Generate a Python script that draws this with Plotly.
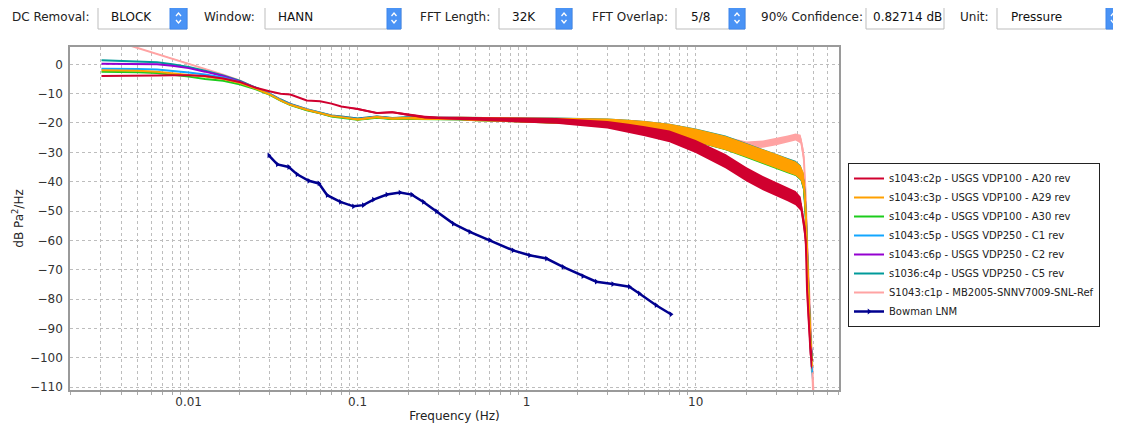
import plotly.graph_objects as go

# ---------------- data ----------------
FREQ = [0.00305, 0.004, 0.005, 0.0065, 0.008, 0.01, 0.0125, 0.016, 0.02, 0.025,
        0.03, 0.035, 0.04, 0.05, 0.06, 0.07, 0.08, 0.1, 0.13, 0.16,
        0.2, 0.25, 0.3, 0.4, 0.5, 0.7, 1, 1.5, 2, 3,
        4, 5, 7, 10, 15, 20, 25, 30, 35, 39,
        41.8, 43.6, 44.8, 45.6, 46.7, 47.9, 48.8, 50]

RED_C2P = [-4.0, -4.0, -3.9, -3.8, -3.7, -3.7, -4.0, -4.8, -6.0, -8.0,
           -9.2, -10.0, -10.3, -12.3, -12.6, -13.4, -14.4, -15.2, -16.6, -16.3,
           -17.2, -18.0, -18.3, -18.5, -18.6, -18.8, -19.0, -19.3, -19.8, -20.6,
           -21.8, -22.8, -24.6, -28.0, -33.0, -37.5, -40.5, -42.6, -44.3, -45.6,
           -47.5, -54.0, -60.0, -77.0, -88.0, -99.0, -101.0, None]
ORANGE_C3P = [-2.0, -2.0, -2.2, -2.5, -3.0, -3.6, -4.2, -5.0, -6.3, -8.3,
              -10.2, -12.3, -13.8, -15.5, -16.5, -17.6, -18.0, -18.8, -18.0, -18.5,
              -18.3, -18.5, -18.5, -18.5, -18.7, -18.8, -19.0, -19.2, -19.4, -19.8,
              -20.4, -21.0, -22.2, -24.2, -26.8, -29.3, -31.3, -33.0, -34.5, -35.5,
              -37.0, -40.0, -50.0, -65.0, -80.0, -95.0, -103.0, None]
GREEN_C4P = [-2.5, -2.5, -2.7, -3.0, -3.5, -4.2, -5.0, -5.6, -6.8, -8.5,
             -10.3, -12.4, -13.9, -15.7, -16.7, -17.8, -18.2, -18.9, -18.2, -18.6,
             -18.4, -18.6, -18.6, -18.6, -18.8, -18.9, -19.1, -19.3, -19.5, -19.9,
             -20.5, -21.1, -22.4, -24.5, -27.2, -29.8, -31.8, -33.5, -35.0, -36.0,
             -37.5, -41.0, -52.0, -66.0, -81.0, -96.0, -101.0, None]
BLUE_C5P = [-1.5, -1.5, -1.6, -1.8, -2.2, -2.8, -3.5, -4.5, -6.0, -8.0,
            -10.0, -12.2, -13.7, -15.5, -16.5, -17.6, -18.0, -18.7, -18.0, -18.5,
            -18.3, -18.5, -18.5, -18.5, -18.7, -18.8, -19.0, -19.2, -19.4, -19.8,
            -20.4, -21.0, -22.3, -24.3, -27.0, -29.5, -31.5, -33.2, -34.7, -35.8,
            -37.5, -41.0, -51.0, -66.0, -82.0, -97.0, -105.0, None]
PURPLE_C6P = [0.2, 0.2, 0.2, 0.0, -0.5, -1.3, -2.5, -4.0, -5.8, -8.0,
              -10.0, -12.2, -13.7, -15.5, -16.5, -17.6, -18.0, -18.7, -18.0, -18.5,
              -18.3, -18.5, -18.5, -18.5, -18.7, -18.8, -19.0, -19.2, -19.4, -19.8,
              -20.4, -21.0, -22.3, -24.3, -27.0, -29.6, -31.6, -33.3, -34.8, -35.8,
              -37.3, -40.5, -50.0, -65.0, -80.0, -95.0, -100.0, None]
TEAL_S1036 = [1.4, 1.2, 1.0, 0.7, 0.0, -0.9, -2.2, -3.8, -5.6, -7.9,
              -9.9, -12.0, -13.5, -15.3, -16.3, -17.4, -17.8, -18.5, -17.8, -18.3,
              -18.1, -18.3, -18.4, -18.4, -18.6, -18.7, -18.9, -19.0, -19.2, -19.6,
              -20.2, -20.8, -22.0, -23.9, -26.4, -28.9, -30.9, -32.6, -34.0, -35.0,
              -36.5, -40.0, -50.0, -65.0, -80.0, -95.0, -100.0, None]
PINK_REF = [9.4, 7.3, 5.5, 3.7, 2.1, 0.4, -1.4, -3.5, -5.5, -8.0,
            -10.0, -12.0, -13.5, -15.3, -16.3, -17.4, -17.8, -18.5, -17.8, -18.3,
            -18.1, -18.3, -18.4, -18.4, -18.6, -18.7, -18.9, -19.0, -19.2, -19.6,
            -20.1, -20.6, -21.8, -23.3, -25.8, -27.5, -27.2, -26.4, -25.5, -24.8,
            -25.5, -31.6, -45.0, -60.0, -75.0, -92.0, -108.0, -115.0]

# half-width of the visible noise band (dB) at each FREQ
RED_NOISE = [0, 0, 0, 0, 0, 0, 0, 0, 0, 0,
             0, 0, 0, 0, 0, 0, 0, 0.3, 0.3, 0.3,
             0.4, 0.5, 0.5, 0.6, 0.7, 0.8, 0.9, 1.0, 1.1, 1.3,
             1.5, 1.7, 2.0, 2.2, 2.4, 2.4, 2.4, 2.4, 2.4, 2.4,
             2.4, 3.0, 4.0, 5.0, 5.0, 4.0, 3.0, None]
ORANGE_NOISE = [0, 0, 0, 0, 0, 0, 0, 0, 0, 0,
                0, 0, 0, 0, 0, 0, 0, 0.3, 0.3, 0.3,
                0.4, 0.5, 0.5, 0.6, 0.7, 0.8, 0.9, 1.0, 1.1, 1.3,
                1.5, 1.7, 1.9, 2.2, 2.4, 2.4, 2.4, 2.4, 2.4, 2.4,
                2.4, 3.0, 4.0, 5.0, 5.0, 4.0, 3.0, None]
OTHER_NOISE = [0, 0, 0, 0, 0, 0, 0, 0, 0, 0,
               0, 0, 0, 0, 0, 0, 0, 0.2, 0.3, 0.3,
               0.4, 0.4, 0.5, 0.5, 0.6, 0.7, 0.8, 0.9, 1.0, 1.1,
               1.3, 1.5, 1.7, 2.0, 2.1, 2.1, 2.1, 2.1, 2.1, 2.1,
               2.1, 2.5, 3.0, 4.0, 4.0, 3.0, 2.5, None]
PINK_NOISE = [0, 0, 0, 0, 0, 0, 0, 0, 0, 0,
              0, 0, 0, 0, 0, 0, 0, 0.2, 0.2, 0.2,
              0.3, 0.3, 0.4, 0.4, 0.5, 0.5, 0.6, 0.7, 0.8, 0.9,
              1.0, 1.0, 1.1, 1.2, 1.2, 1.2, 1.2, 1.2, 1.2, 1.2,
              1.5, 2.5, 3.5, 4.0, 4.0, 3.5, 3.0, 2.0]

BOWMAN_F = [0.0298, 0.0335, 0.0391, 0.0438, 0.0514, 0.059, 0.066, 0.079, 0.0945, 0.108,
            0.124, 0.149, 0.178, 0.209, 0.245, 0.293, 0.368, 0.461, 0.605, 0.83,
            1.04, 1.31, 1.64, 2.15, 2.58, 3.23, 4.05, 4.64, 5.83, 7.14]
BOWMAN_DB = [-31.0, -34.1, -35.0, -37.5, -39.7, -40.6, -44.6, -46.9, -48.4, -48.0,
             -46.1, -44.4, -43.7, -44.4, -46.9, -50.1, -54.3, -57.1, -59.9, -63.4,
             -65.1, -66.2, -69.0, -72.2, -74.1, -74.9, -75.8, -78.1, -82.1, -85.2]

NAMES = ["s1043:c2p - USGS VDP100 - A20 rev",
         "s1043:c3p - USGS VDP100 - A29 rev",
         "s1043:c4p - USGS VDP100 - A30 rev",
         "s1043:c5p - USGS VDP250 - C1 rev",
         "s1043:c6p - USGS VDP250 - C2 rev",
         "s1036:c4p - USGS VDP250 - C5 rev",
         "S1043:c1p - MB2005-SNNV7009-SNL-Ref",
         "Bowman LNM"]

TOOL_LABELS = ["DC Removal:", "Window:", "FFT Length:", "FFT Overlap:", "90% Confidence:", "Unit:"]
TOOL_VALUES = ["BLOCK", "HANN", "32K", "5/8", "0.82714 dB", "Pressure"]

# ---------------- layout geometry ----------------
# The page body has an 8px margin, so the figure sits at (8, 8) in the window.
OFF = 8
WIN_W, WIN_H = 1121, 425
W, H = WIN_W - OFF, WIN_H - OFF
# plot area in window pixels
SL, SR, ST, SB = 70, 839, 47, 390


def pxx(x):
    return (x - SL) / (SR - SL)


def pxy(y):
    return (SB - y) / (SB - ST)


fig = go.Figure()


def add_band(vals, noise, color):
    xs_hi, ys_hi, xs_lo, ys_lo = [], [], [], []
    for f, v, n in zip(FREQ, vals, noise):
        if v is None or n is None:
            continue
        xs_hi.append(f); ys_hi.append(v + n)
        xs_lo.append(f); ys_lo.append(v - n)
    fig.add_trace(go.Scatter(x=xs_hi + xs_lo[::-1], y=ys_hi + ys_lo[::-1],
                             mode="lines", fill="toself", fillcolor=color,
                             line=dict(width=0, color=color), showlegend=False,
                             hoverinfo="skip"))


# Bowman LNM (drawn first, bottom)
fig.add_trace(go.Scatter(x=BOWMAN_F, y=BOWMAN_DB, mode="lines+markers", name=NAMES[7],
                         line=dict(color="#00008f", width=2.5),
                         marker=dict(symbol="triangle-right", size=5, color="#00008f")))

series = [
    (PINK_REF, PINK_NOISE, "#ffa3a3", NAMES[6]),
    (TEAL_S1036, OTHER_NOISE, "#009a9a", NAMES[5]),
    (PURPLE_C6P, OTHER_NOISE, "#9400d0", NAMES[4]),
    (BLUE_C5P, OTHER_NOISE, "#12a6ff", NAMES[3]),
    (GREEN_C4P, OTHER_NOISE, "#1ccc1c", NAMES[2]),
    (ORANGE_C3P, ORANGE_NOISE, "#ffa000", NAMES[1]),
    (RED_C2P, RED_NOISE, "#d0002f", NAMES[0]),
]
for vals, noise, color, name in series:
    add_band(vals, noise, color)
    fig.add_trace(go.Scatter(x=FREQ, y=vals, mode="lines", name=name,
                             line=dict(color=color, width=2), connectgaps=False))

# ---------------- toolbar (UI controls above the chart) ----------------
shapes = []
annotations = []
label_x = [10, 202, 418, 590, 759, 958]
value_x = [109, 276, 510, 689, 871, 1009]
boxes = [(98, 187, 170), (265, 401, 387), (499, 572, 556), (676, 745, 729), (866, 944, None), (997, 1121, 1106)]
by0, by1 = 7, 29
for (bx0, bx1, btn) in boxes:
    shapes.append(dict(type="rect", xref="paper", yref="paper",
                       x0=pxx(bx0), x1=pxx(bx1), y0=pxy(by1), y1=pxy(by0),
                       line=dict(color="#bdbdbd", width=1), fillcolor="white", layer="above"))
    if btn is not None:
        shapes.append(dict(type="rect", xref="paper", yref="paper",
                           x0=pxx(btn), x1=pxx(bx1), y0=pxy(by1), y1=pxy(by0),
                           line=dict(color="#3d86ee", width=1), fillcolor="#4a93f5", layer="above"))
        cx = (btn + bx1) / 2
        cy = (by0 + by1) / 2
        up = f"M {pxx(cx-2.5)},{pxy(cy-2)} L {pxx(cx)},{pxy(cy-5)} L {pxx(cx+2.5)},{pxy(cy-2)}"
        dn = f"M {pxx(cx-2.5)},{pxy(cy+2)} L {pxx(cx)},{pxy(cy+5)} L {pxx(cx+2.5)},{pxy(cy+2)}"
        for p in (up, dn):
            shapes.append(dict(type="path", xref="paper", yref="paper", path=p,
                               line=dict(color="white", width=1.3), layer="above"))

for txt, x in zip(TOOL_LABELS, label_x):
    annotations.append(dict(text=txt, x=pxx(x), y=pxy(17.5), xref="paper", yref="paper",
                            xanchor="left", yanchor="middle", showarrow=False,
                            font=dict(family="DejaVu Sans", size=12, color="#222")))
for txt, x in zip(TOOL_VALUES, value_x):
    annotations.append(dict(text=txt, x=pxx(x), y=pxy(17.5), xref="paper", yref="paper",
                            xanchor="left", yanchor="middle", showarrow=False,
                            font=dict(family="DejaVu Sans", size=12, color="#111")))

GRID = "#bdbdbd"
minor_vals = [m * 10 ** e for e in range(-3, 2) for m in range(2, 10)]

fig.update_layout(
    width=W, height=H,
    margin=dict(l=SL - OFF, r=W - (SR - OFF), t=ST - OFF, b=H - (SB - OFF), autoexpand=False),
    paper_bgcolor="white", plot_bgcolor="white",
    font=dict(family="DejaVu Sans", size=12, color="#333"),
    shapes=shapes, annotations=annotations,
    showlegend=True,
    legend=dict(x=pxx(848), y=pxy(163), xanchor="left", yanchor="top",
                traceorder="reversed", bgcolor="white", bordercolor="#222", borderwidth=1,
                font=dict(family="DejaVu Sans", size=10, color="#222"),
                itemwidth=30, tracegroupgap=0),
    xaxis=dict(type="log", range=[-2.702, 1.848], automargin=False,
               tickvals=[0.01, 0.1, 1, 10], ticktext=["0.01", "0.1", "1", "10"],
               showgrid=True, gridcolor=GRID, griddash="dot", gridwidth=1,
               minor=dict(tickvals=minor_vals, showgrid=True, gridcolor=GRID, griddash="dot",
                          ticks="outside", ticklen=3, tickcolor="#aaa"),
               ticks="",
               showline=True, mirror=True, linecolor="#9a9a9a", linewidth=1.5,
               zeroline=False,
               title=dict(text="Frequency (Hz)", font=dict(size=12, color="#222"), standoff=3),
               tickfont=dict(size=12, color="#333")),
    yaxis=dict(range=[-111, 5.9], tick0=0, dtick=10, automargin=False,
               showgrid=True, gridcolor=GRID, griddash="dot", gridwidth=1,
               ticks="outside", ticklen=3, tickcolor="rgba(0,0,0,0)",
               showline=True, mirror=True, linecolor="#9a9a9a", linewidth=1.5,
               zeroline=False,
               title=dict(text="dB Pa<sup>2</sup>/Hz", font=dict(size=12, color="#222"), standoff=4),
               tickfont=dict(size=12, color="#333")),
)

fig.write_html("out.html")
